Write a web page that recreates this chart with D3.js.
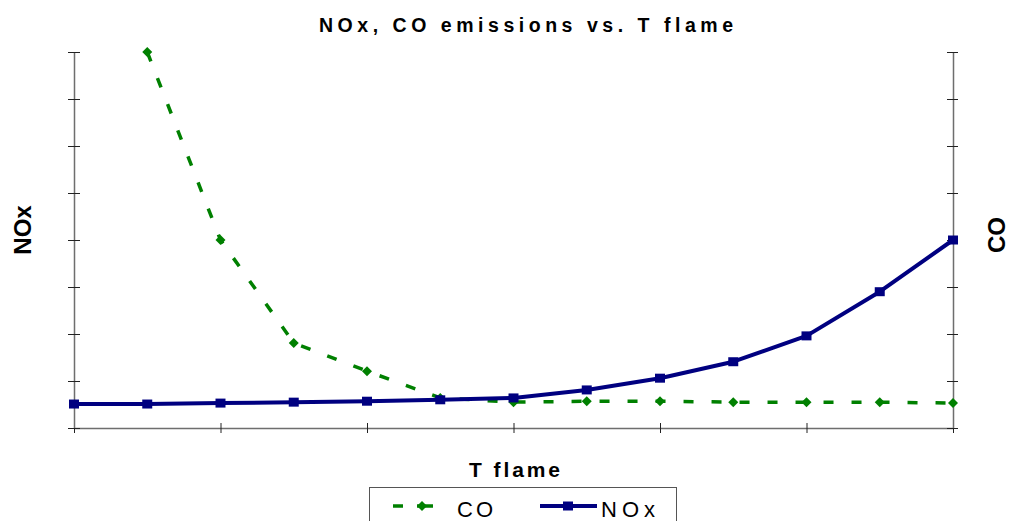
<!DOCTYPE html>
<html>
<head>
<meta charset="utf-8">
<script src="https://cdn.jsdelivr.net/npm/d3@7"></script>
<style>
  html, body { margin: 0; padding: 0; background: #fff; }
  svg { display: block; font-family: "Liberation Sans", Arial, sans-serif; }
</style>
</head>
<body>
<svg id="chart" width="1009" height="521"></svg>
<script>
// ---- data ----
const categories = ["1","2","3","4","5","6","7","8","9","10","11","12","13"];
const xTickCats = ["1","3","5","7","9","11","13"];
const noxValues = [0.51, 0.51, 0.53, 0.55, 0.57, 0.60, 0.64, 0.81, 1.06, 1.41, 1.96, 2.90, 4.00];
const coValues  = [null, 8.0, 4.0, 1.81, 1.21, 0.64, 0.55, 0.57, 0.57, 0.55, 0.55, 0.55, 0.53];
const yDomain = [0, 8];
const yTickCount = 8;
const titleText = "NOx, CO emissions vs. T flame";
const xTitle = "T flame";
const yLeftTitle = "NOx";
const yRightTitle = "CO";
const seriesNames = ["CO", "NOx"];

// ---- layout ----
const svg = d3.select("#chart");
const pL = 74, pR = 953, pT = 52, pB = 428;
const NAVY = "#000080", GREEN = "#008000";

const x = d3.scalePoint().domain(categories).range([pL, pR]).padding(0);
const yL = d3.scaleLinear().domain(yDomain).range([pB, pT]);
const yR = d3.scaleLinear().domain(yDomain).range([pB, pT]);

// axes
function styleAxis(g, t1, t2, horiz) {
  g.select(".domain").attr("stroke", "#6e6e6e").attr("stroke-width", 1.5);
  g.selectAll(".tick line").attr("stroke", "#222").attr("stroke-width", 1)
    .each(function() {
      if (horiz) d3.select(this).attr("y1", t1).attr("y2", t2);
      else d3.select(this).attr("x1", t1).attr("x2", t2);
    });
  g.selectAll(".tick text").remove();
}
const gx = svg.append("g").attr("transform", `translate(0,${pB})`)
  .call(d3.axisBottom(x).tickValues(xTickCats).tickFormat("").tickSizeOuter(0));
styleAxis(gx, -5, 5, true);
const gl = svg.append("g").attr("transform", `translate(${pL},0)`)
  .call(d3.axisLeft(yL).ticks(yTickCount).tickFormat("").tickSizeOuter(0));
styleAxis(gl, -6, 6, false);
const gr = svg.append("g").attr("transform", `translate(${pR},0)`)
  .call(d3.axisRight(yR).ticks(yTickCount).tickFormat("").tickSizeOuter(0));
styleAxis(gr, -6, 5, false);

// series
const coData = categories.map((c, i) => ({c, v: coValues[i]})).filter(d => d.v !== null);
const noxData = categories.map((c, i) => ({c, v: noxValues[i]}));

const diamond = "M0,-5L5,0L0,5L-5,0Z";
const square = "M-5,-4.5H5V4.5H-5Z";

svg.append("path").datum(coData)
  .attr("fill", "none").attr("stroke", GREEN).attr("stroke-width", 3.5)
  .attr("stroke-dasharray", "10,18")
  .attr("d", d3.line().x(d => x(d.c)).y(d => yR(d.v)));
svg.append("g").selectAll("path").data(coData).join("path")
  .attr("d", diamond).attr("fill", GREEN)
  .attr("transform", d => `translate(${x(d.c)},${yR(d.v)})`);

svg.append("path").datum(noxData)
  .attr("fill", "none").attr("stroke", NAVY).attr("stroke-width", 4)
  .attr("stroke-linejoin", "round")
  .attr("d", d3.line().x(d => x(d.c)).y(d => yL(d.v)));
svg.append("g").selectAll("path").data(noxData).join("path")
  .attr("d", square).attr("fill", NAVY)
  .attr("transform", d => `translate(${x(d.c)},${yL(d.v)})`);

// titles
svg.append("text").attr("x", 319).attr("y", 32)
  .attr("font-size", 19.5).attr("font-weight", "bold")
  .attr("textLength", 414).attr("lengthAdjust", "spacing")
  .text(titleText);
svg.append("text").attr("x", 469).attr("y", 477)
  .attr("font-size", 21).attr("font-weight", "bold")
  .attr("textLength", 91).attr("lengthAdjust", "spacing")
  .text(xTitle);
svg.append("text").attr("transform", "translate(31,230) rotate(-90)")
  .attr("text-anchor", "middle").attr("font-size", 24).attr("font-weight", "bold")
  .text(yLeftTitle);
svg.append("text").attr("transform", "translate(1005,235) rotate(-90)")
  .attr("text-anchor", "middle").attr("font-size", 24).attr("font-weight", "bold")
  .text(yRightTitle);

// legend
const lg = svg.append("g");
lg.append("rect").attr("x", 369.5).attr("y", 487.5).attr("width", 307).attr("height", 50)
  .attr("fill", "#fff").attr("stroke", "#555").attr("stroke-width", 1);
const ly = 506;
lg.append("line").attr("x1", 393).attr("x2", 433).attr("y1", ly).attr("y2", ly)
  .attr("stroke", GREEN).attr("stroke-width", 3.5).attr("stroke-dasharray", "10,14,16");
lg.append("path").attr("d", diamond).attr("fill", GREEN).attr("transform", `translate(422,${ly})`);
lg.append("text").attr("x", 457).attr("y", 517).attr("font-size", 22)
  .attr("textLength", 36).attr("lengthAdjust", "spacing").text(seriesNames[0]);
lg.append("line").attr("x1", 540).attr("x2", 597).attr("y1", ly).attr("y2", ly)
  .attr("stroke", NAVY).attr("stroke-width", 4);
lg.append("path").attr("d", square).attr("fill", NAVY).attr("transform", `translate(568,${ly})`);
lg.append("text").attr("x", 601).attr("y", 517).attr("font-size", 22)
  .attr("textLength", 54).attr("lengthAdjust", "spacing").text(seriesNames[1]);
</script>
</body>
</html>
